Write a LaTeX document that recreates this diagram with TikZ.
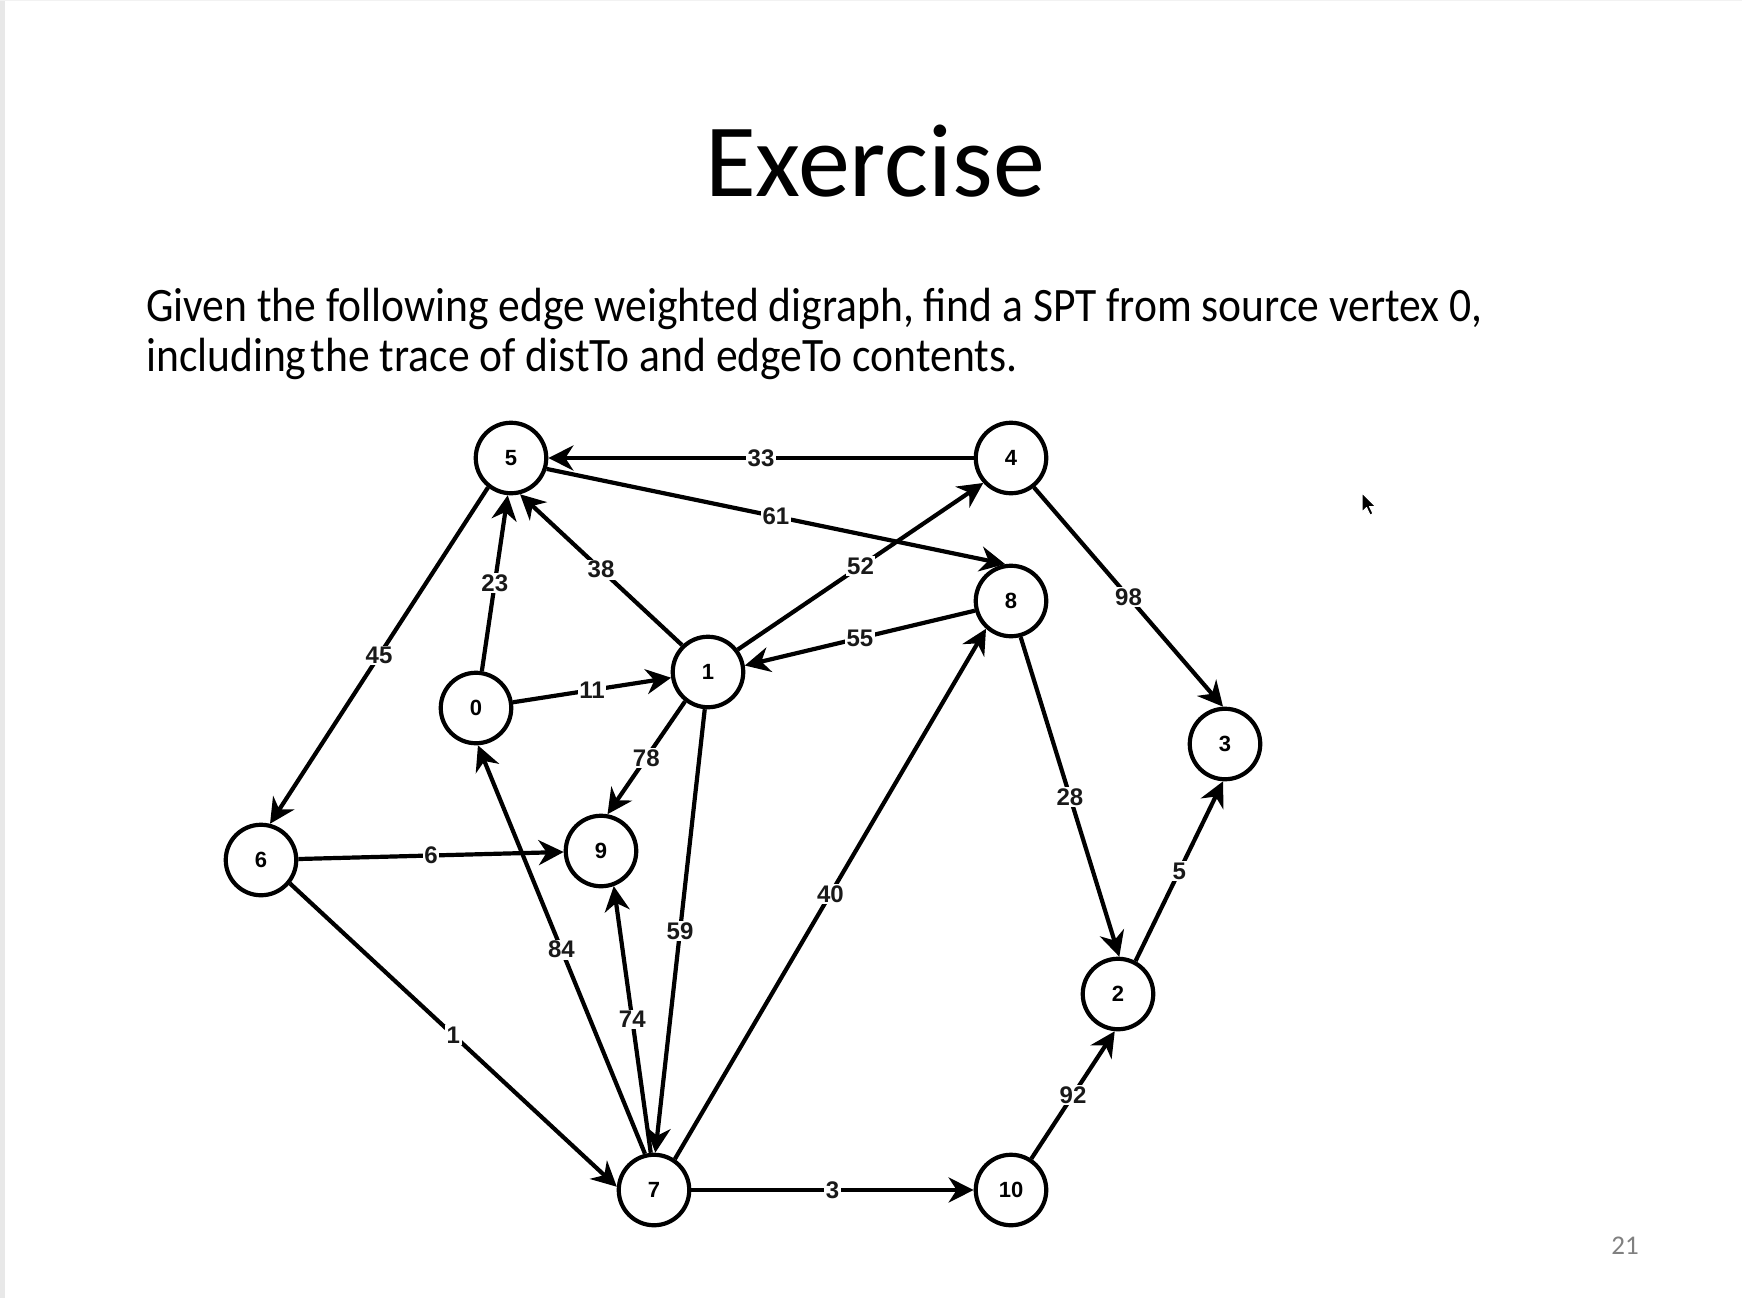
\documentclass[tikz,border=0pt]{standalone}
\usepackage{fontspec}
\setmainfont{Carlito}
\newfontfamily\graphfont{Liberation Sans}
\usetikzlibrary{arrows.meta}
\newsavebox\lineAbox
\newlength\lineAlen
\begin{document}
\sbox\lineAbox{\fontsize{48}{48}\selectfont Given the following edge weighted digraph, find a SPT from source vertex 0,}%
\setlength\lineAlen{\wd\lineAbox}%
\pgfmathsetmacro\sx{1336/\lineAlen}%
\begin{tikzpicture}[x=1pt,y=-1pt,
  vtx/.style={circle, draw=black, line width=4.2pt, minimum size=70.5pt, inner sep=0pt,
    fill=white, font=\graphfont\bfseries\fontsize{22}{22}\selectfont},
  edge/.style={draw=black, line width=4.2pt, -{Stealth[length=25pt,width=25pt,inset=8pt]}},
  wlab/.style={fill=white, inner sep=1.5pt, font=\graphfont\bfseries\fontsize{24}{24}\selectfont, text=black!90}
]
\useasboundingbox (0,0) rectangle (1742,1298);
\fill[white] (0,0) rectangle (1742,1298);
\fill[black!9] (0,0) rectangle (5,1298);
\fill[black!5] (0,0) rectangle (1742,1.5);

% texts
\node[anchor=base, inner sep=0pt, font=\fontsize{104}{104}\selectfont] (title) at (875,196) {Exercise};
\node[anchor=base west, inner sep=0pt] (body1) at (146,321) {\scalebox{\sx}[1]{\usebox\lineAbox}};
\node[anchor=base west, inner sep=0pt] (body2) at (146,371) {\scalebox{\sx}[1]{\fontsize{48}{48}\selectfont including\hspace{0.1em}the trace of distTo and edgeTo contents.}};
\node[anchor=base, inner sep=0pt, text=black!50, font=\fontsize{27}{27}\selectfont] (pagenum) at (1625,1254) {21};

% vertices
\node[vtx] (n0) at (476,708) {0};
\node[vtx] (n1) at (708,672) {1};
\node[vtx] (n2) at (1118,994) {2};
\node[vtx] (n3) at (1225,744) {3};
\node[vtx] (n4) at (1011,458) {4};
\node[vtx] (n5) at (511,458) {5};
\node[vtx] (n6) at (261,860) {6};
\node[vtx] (n7) at (654,1190) {7};
\node[vtx] (n8) at (1011,601) {8};
\node[vtx] (n9) at (601,851) {9};
\node[vtx] (n10) at (1011,1190) {10};

% edges
\draw[edge] (n4) -- node[wlab]{33} (n5);
\draw[edge] (n5.-17) -- node[wlab]{61} (n8.99);
\draw[edge] (n5.232) -- node[wlab]{45} (n6.76);
\draw[edge] (n0.81) -- node[wlab]{23} (n5.-95);
\draw[edge] (n1.134) -- node[wlab]{38} (n5.-76);
\draw[edge] (n1.37) -- node[wlab]{52} (n4.222);
\draw[edge] (n8.195) -- node[wlab]{55} (n1.10);
\draw[edge] (n0) -- node[wlab]{11} (n1);
\draw[edge] (n1.232) -- node[wlab]{78} (n9.80);
\draw[edge] (n1.-95) -- node[wlab]{59} (n7.88);
\draw[edge] (n4.-52) -- node[wlab]{98} (n3.93);
\draw[edge] (n8.-75) -- node[wlab]{28} (n2.88);
\draw[edge] (n2.62) -- node[wlab]{5} (n3.-93);
\draw[edge] (n6) -- node[wlab]{6} (n9);
\draw[edge] (n6.-39) -- node[wlab]{1} (n7.175);
\draw[edge] (n7.104) -- node[wlab]{84} (n0.-87);
\draw[edge] (n7.95) -- node[wlab]{74} (n9.-70);
\draw[edge] (n7.56) -- node[wlab]{40} (n8.228);
\draw[edge] (n7) -- node[wlab]{3} (n10);
\draw[edge] (n10.57) -- node[wlab]{92} (n2.-95);

% mouse pointer
\filldraw[fill=black, draw=white, line width=1pt, line join=round]
  (1362,493) -- ++(0,19) -- ++(4.5,-4.5) -- ++(3.5,7.5) -- ++(3,-1.3)
  -- ++(-3.5,-7.2) -- ++(6.2,0) -- cycle;
\end{tikzpicture}
\end{document}
